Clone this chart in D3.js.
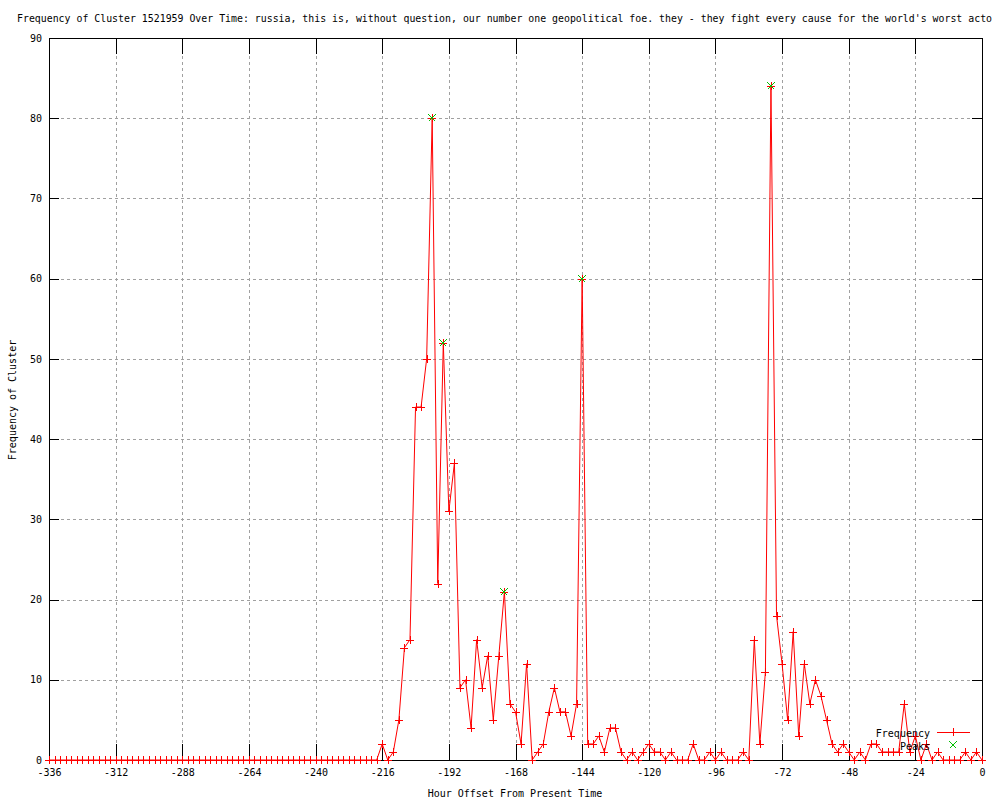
<!DOCTYPE html>
<html>
<head>
<meta charset="utf-8">
<script src="https://cdn.jsdelivr.net/npm/d3@7"></script>
<style>
  body { margin: 0; background: #fff; }
  text { font-family: "DejaVu Sans Mono", monospace; font-size: 10px; fill: #000; }
</style>
</head>
<body>
<script>
// hour offsets, one bin every 2 hours
const hours = [
  -336,-334,-332,-330,-328,-326,-324,-322,-320,-318,-316,-314,-312,-310,-308,-306,-304,-302,-300,-298,
  -296,-294,-292,-290,-288,-286,-284,-282,-280,-278,-276,-274,-272,-270,-268,-266,-264,-262,-260,-258,
  -256,-254,-252,-250,-248,-246,-244,-242,-240,-238,-236,-234,-232,-230,-228,-226,-224,-222,-220,-218,
  -216,-214,-212,-210,-208,-206,-204,-202,-200,-198,-196,-194,-192,-190,-188,-186,-184,-182,-180,-178,
  -176,-174,-172,-170,-168,-166,-164,-162,-160,-158,-156,-154,-152,-150,-148,-146,-144,-142,-140,-138,
  -136,-134,-132,-130,-128,-126,-124,-122,-120,-118,-116,-114,-112,-110,-108,-106,-104,-102,-100,-98,
  -96,-94,-92,-90,-88,-86,-84,-82,-80,-78,-76,-74,-72,-70,-68,-66,-64,-62,-60,-58,
  -56,-54,-52,-50,-48,-46,-44,-42,-40,-38,-36,-34,-32,-30,-28,-26,-24,-22,-20,-18,
  -16,-14,-12,-10,-8,-6,-4,-2,0
];

const frequency = [
  0,0,0,0,0,0,0,0,0,0,0,0,0,0,0,0,0,0,0,0,
  0,0,0,0,0,0,0,0,0,0,0,0,0,0,0,0,0,0,0,0,
  0,0,0,0,0,0,0,0,0,0,0,0,0,0,0,0,0,0,0,0,
  2,0,1,5,14,15,44,44,50,80,22,52,31,37,9,10,4,15,9,13,
  5,13,21,7,6,2,12,0,1,2,6,9,6,6,3,7,60,2,2,3,
  1,4,4,1,0,1,0,1,2,1,1,0,1,0,0,0,2,0,0,1,
  0,1,0,0,0,1,0,15,2,11,84,18,12,5,16,3,12,7,10,8,
  5,2,1,2,1,0,1,0,2,2,1,1,1,1,7,1,3,0,2,0,
  1,0,0,0,0,1,0,1,0
];

const peakHours = [-198, -194, -172, -144, -76];
const peakValues = [80, 52, 21, 60, 84];

const xTicks = [-336,-312,-288,-264,-240,-216,-192,-168,-144,-120,-96,-72,-48,-24,0];
const yTicks = [0,10,20,30,40,50,60,70,80,90];

const title = "Frequency of Cluster 1521959 Over Time: russia, this is, without question, our number one geopolitical foe. they - they fight every cause for the world's worst acto";

function init() {
  const svg = d3.select("body").append("svg")
    .attr("width", 1000)
    .attr("height", 800)
    .style("display", "block")
    .attr("shape-rendering", "crispEdges");

  const left = 49, right = 982, top = 38, bottom = 760;

  const x = d3.scaleLinear().domain([-336, 0]).range([left, right]);
  const y = d3.scaleLinear().domain([0, 90]).range([bottom, top]);

  // grid
  const grid = svg.append("g")
    .attr("stroke", "#a0a0a0")
    .attr("stroke-dasharray", "3,3");
  grid.selectAll(".gx").data(xTicks.slice(1, -1)).join("line")
    .attr("x1", d => Math.round(x(d)) + 0.5).attr("x2", d => Math.round(x(d)) + 0.5)
    .attr("y1", top).attr("y2", bottom);
  grid.selectAll(".gy").data(yTicks.slice(1, -1)).join("line")
    .attr("y1", d => Math.round(y(d)) + 0.5).attr("y2", d => Math.round(y(d)) + 0.5)
    .attr("x1", left).attr("x2", right);

  // axes (ticks point inward, mirrored on top/right)
  const xAxis = svg.append("g")
    .attr("transform", `translate(0,${bottom})`)
    .call(d3.axisBottom(x).tickValues(xTicks).tickSize(-16).tickPadding(9).tickFormat(d => String(d)));
  const xTop = svg.append("g")
    .attr("transform", `translate(0,${top})`)
    .call(d3.axisTop(x).tickValues(xTicks).tickSize(-16).tickFormat(""));
  const yAxis = svg.append("g")
    .attr("transform", `translate(${left},0)`)
    .call(d3.axisLeft(y).tickValues(yTicks).tickSize(-10).tickPadding(7).tickFormat(d => String(d)));
  const yRight = svg.append("g")
    .attr("transform", `translate(${right},0)`)
    .call(d3.axisRight(y).tickValues(yTicks).tickSize(-10).tickFormat(""));

  svg.selectAll(".domain").remove();
  svg.selectAll(".tick line").attr("stroke", "#000");
  svg.selectAll(".tick text")
    .style("font-family", "'DejaVu Sans Mono', monospace")
    .style("font-size", "10px")
    .attr("fill", "#000");

  const border = svg.append("rect")
    .attr("x", left + 0.5).attr("y", top + 0.5)
    .attr("width", right - left).attr("height", bottom - top)
    .attr("fill", "none")
    .attr("stroke", "#000");

  // frequency line + markers
  const pts = hours.map((h, i) => [h, frequency[i]]);
  const line = d3.line().x(d => x(d[0])).y(d => y(d[1]));

  const freqLine = svg.append("path")
    .datum(pts)
    .attr("d", line)
    .attr("fill", "none")
    .attr("stroke", "#ff0000")
    .attr("stroke-width", 1)
    .attr("shape-rendering", "auto");

  const plus = "M-4,0h8M0,-4v8";
  const cross = "M-3.5,-3.5L3.5,3.5M-3.5,3.5L3.5,-3.5";

  svg.append("g").selectAll("path").data(pts).join("path")
    .attr("transform", d => `translate(${Math.round(x(d[0]))},${Math.round(y(d[1]))})`)
    .attr("d", plus)
    .attr("stroke", "#ff0000")
    .attr("fill", "none");

  svg.append("g").selectAll("path").data(peakHours).join("path")
    .attr("transform", (d, i) => `translate(${Math.round(x(d))},${Math.round(y(peakValues[i]))})`)
    .attr("d", cross)
    .attr("stroke", "#00c000")
    .attr("fill", "none");

  // legend
  const key = svg.append("g");
  key.append("text").attr("x", 930).attr("y", 737).attr("text-anchor", "end").text("Frequency");
  key.append("line").attr("x1", 937).attr("x2", 970).attr("y1", 732.5).attr("y2", 732.5).attr("stroke", "#ff0000");
  key.append("path").attr("transform", "translate(953,732)").attr("d", plus).attr("stroke", "#ff0000");
  key.append("text").attr("x", 930).attr("y", 750).attr("text-anchor", "end").text("Peaks");
  key.append("path").attr("transform", "translate(953,745)").attr("d", cross).attr("stroke", "#00c000");

  // titles
  svg.append("text").attr("x", 17).attr("y", 22)
    .style("font-size", "9.9px")
    .text(title);
  svg.append("text").attr("x", 515).attr("y", 797).attr("text-anchor", "middle").text("Hour Offset From Present Time");
  svg.append("text")
    .attr("transform", "translate(16,400) rotate(-90)")
    .attr("text-anchor", "middle")
    .text("Frequency of Cluster");
}

init();
</script>
</body>
</html>
